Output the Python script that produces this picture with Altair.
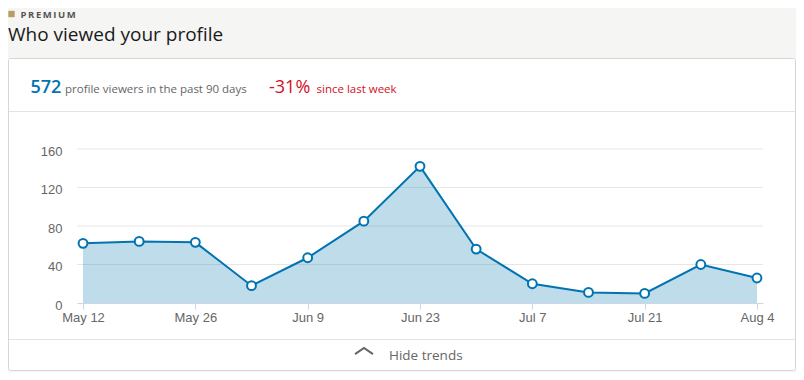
import altair as alt
import pandas as pd

# ---- data ----
dates = ["2019-05-12", "2019-05-19", "2019-05-26", "2019-06-02", "2019-06-09",
         "2019-06-16", "2019-06-23", "2019-06-30", "2019-07-07", "2019-07-14",
         "2019-07-21", "2019-07-28", "2019-08-04"]
views = [62, 64, 63, 18, 47, 85, 142, 56, 20, 11, 10, 40, 26]
y_ticks = [0, 40, 80, 120, 160]
x_tick_days = [(5, 12), (5, 26), (6, 9), (6, 23), (7, 7), (7, 21), (8, 4)]

header_label = "P\u2009R\u2009E\u2009M\u2009I\u2009U\u2009M"
title_text = "Who viewed your profile"
total_text = "572"
total_caption = "profile viewers in the past 90 days"
change_text = "-31%"
change_caption = "since last week"
toggle_text = "Hide trends"

BLUE = "#0073b1"
RED = "#d11124"
GREY = "#666666"
W, H = 686, 154

df = pd.DataFrame({"date": dates, "views": views})
grid_df = pd.DataFrame({"views": y_ticks[1:]})
one = pd.DataFrame({"a": [0]})

x_scale = alt.Scale(
    type="utc",
    domain=[alt.DateTime(year=2019, month=5, date=11, hours=6, utc=True),
            alt.DateTime(year=2019, month=8, date=4, hours=18, utc=True)],
)
y_scale = alt.Scale(domain=[0, 160], nice=False, zero=True)

x_axis = alt.Axis(
    values=[alt.DateTime(year=2019, month=m, date=d, utc=True) for m, d in x_tick_days],
    format="%b %-d", title=None, grid=False, domainColor="#ccd6eb", tickColor="#ccd6eb",
    tickSize=6, labelPadding=2, labelFont="Liberation Sans", labelFontSize=13,
    labelColor=GREY, labelFlush=False, labelOverlap=False, zindex=1,
)
y_axis = alt.Axis(
    values=y_ticks, title=None, grid=False, domain=False, ticks=False, tickSize=0,
    labelPadding=15, labelFont="Liberation Sans", labelFontSize=13, labelColor=GREY,
    labelOffset=2, zindex=1,
)

# card and separators (decoration)
card = alt.Chart(one).mark_rect(fill="white", stroke="#d6d6d6", strokeWidth=1, cornerRadius=2).encode(
    x=alt.value(-68.5), x2=alt.value(718.5), y=alt.value(-90.5), y2=alt.value(221.5))
sep1 = alt.Chart(one).mark_rule(color="#e3e3e3").encode(
    x=alt.value(-68), x2=alt.value(718), y=alt.value(-37.5))
sep2 = alt.Chart(one).mark_rule(color="#e3e3e3").encode(
    x=alt.value(-68), x2=alt.value(718), y=alt.value(190.5))

grid = alt.Chart(grid_df).mark_rule(color="#e6e6e6").encode(
    y=alt.Y("views:Q", scale=y_scale, axis=y_axis), x=alt.value(0), x2=alt.value(W))

base = alt.Chart(df).encode(
    x=alt.X("date:T", scale=x_scale, axis=x_axis),
    y=alt.Y("views:Q", scale=y_scale, axis=y_axis),
)
area = base.mark_area(color=BLUE, fillOpacity=0.25)
line = base.mark_line(color=BLUE, strokeWidth=2)
pts = base.mark_point(shape="circle", filled=True, fill="white", stroke=BLUE,
                      strokeWidth=2, size=78, opacity=1)


def txt(s, x, y, size, color, weight="normal", font="Open Sans", baseline="alphabetic"):
    return alt.Chart(one).mark_text(
        text=s, align="left", baseline=baseline, font=font, fontSize=size,
        fontWeight=weight, color=color,
    ).encode(x=alt.value(x), y=alt.value(y))


icon = alt.Chart(one).mark_square(color="#b89c62", size=40, opacity=1).encode(
    x=alt.value(-65.5), y=alt.value(-135))
premium = txt(header_label, -56.5, -131.5, 9.5, "#555555", weight="bold")
title = txt(title_text, -69, -108, 19, "#1a1a1a")
t572 = txt(total_text, -46.5, -56.5, 18, BLUE, weight=600)
tcap = txt(total_caption, -12, -56.5, 11.5, GREY)
tchg = txt(change_text, 192, -56.5, 18, RED)
tchgcap = txt(change_caption, 239.5, -56.5, 11.5, RED)
chevron = alt.Chart(one).mark_point(
    shape="M-1,0.35L0,-0.35L1,0.35", filled=False, stroke="#666666", strokeWidth=2,
    size=324, opacity=1).encode(x=alt.value(287), y=alt.value(202))
toggle = txt(toggle_text, 312, 211, 13.5, GREY)

chart = alt.layer(
    card, sep1, sep2, grid, area, line, pts,
    icon, premium, title, t572, tcap, tchg, tchgcap, chevron, toggle,
).properties(
    width=W, height=H,
    autosize=alt.AutoSizeParams(type="none"),
    padding={"left": 69, "top": 141, "right": 33, "bottom": 69},
    background="#f5f5f4",
).configure_view(stroke=None)

chart.save("out.html", embed_options={"renderer": "svg", "actions": False})
